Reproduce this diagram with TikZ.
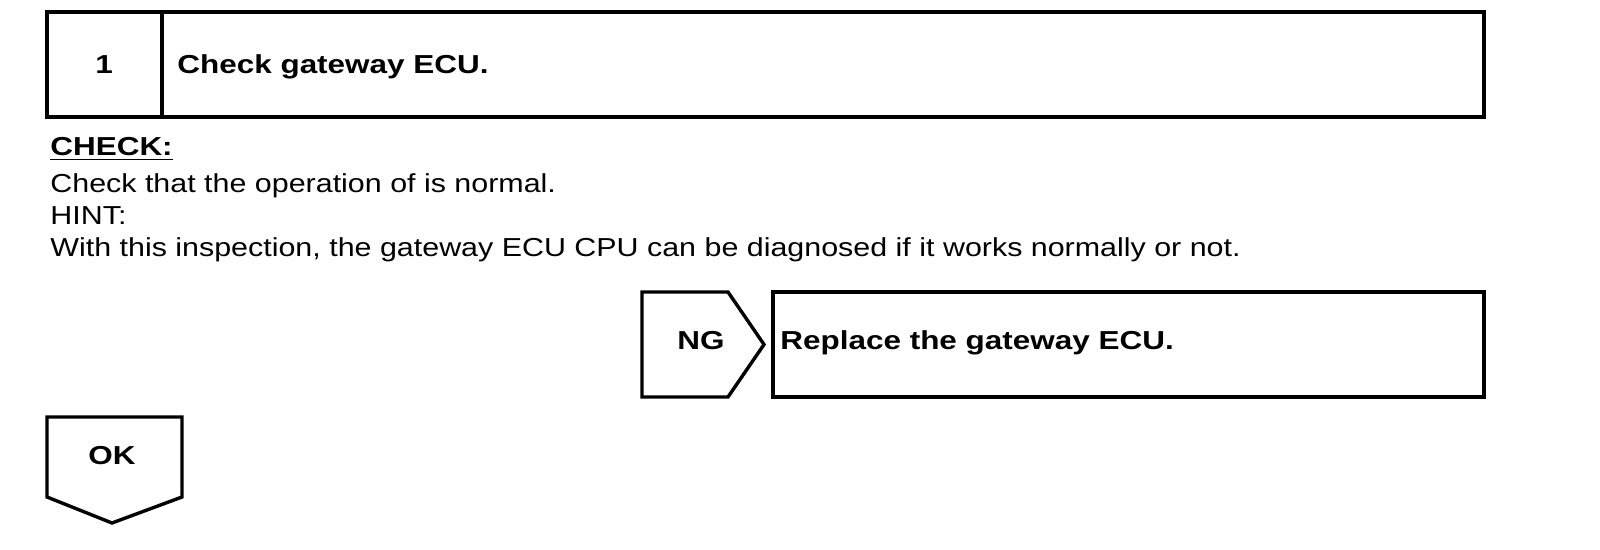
\documentclass[tikz,border=0pt]{standalone}
\usepackage{fontspec}
\setmainfont{Liberation Sans}[FakeStretch=1.17,BoldFeatures={FakeStretch=1.21}]
\usepackage{tikz}
\tikzstyle{frame}=[draw,line width=1.7pt,line join=miter]
\tikzstyle{txt}=[anchor=base west,inner sep=0pt,font=\fontsize{13}{16}\selectfont]
\tikzstyle{bold txt}=[txt,font=\fontsize{13}{16}\selectfont\bfseries]
\tikzstyle{tag}=[bold txt,anchor=base]

\begin{document}
\begin{tikzpicture}[x=0.5pt,y=-0.5pt]
        \useasboundingbox (0,0) rectangle (1600,550);
        % step header
        \coordinate (h1) at (47,12);
        \coordinate (h2) at (1484,117);
        \coordinate (d1) at (162,12);
        \coordinate (d2) at (162,117);
        \draw[frame] (h1) rectangle (h2);
        \draw[frame] (d1) -- (d2);
        \node[tag] (num) at (104,74) {1};
        \node[bold txt] (head) at (177,74) {Check gateway ECU.};
        % text
        \node[bold txt] (check) at (50,156) {\underline{CHECK:}};
        \node[txt] (line1) at (50,193) {Check that the operation of is normal.};
        \node[txt] (hint) at (50,225) {HINT:};
        \node[txt] (line2) at (50,257) {With this inspection, the gateway ECU CPU can be diagnosed if it works normally or not.};
        % NG branch
        \draw[frame] (642,292) -- (728,292) -- (764,344.5) -- (728,397) -- (642,397) -- cycle;
        \node[tag] (ng) at (701,350) {NG};
        \draw[frame] (773,292) rectangle (1484,397);
        \node[bold txt] (repl) at (780,350) {Replace the gateway ECU.};
        % OK branch
        \draw[frame] (47,417) -- (182,417) -- (182,497) -- (112,523) -- (47,497) -- cycle;
        \node[tag] (ok) at (112,465) {OK};
      \end{tikzpicture}
\end{document}
